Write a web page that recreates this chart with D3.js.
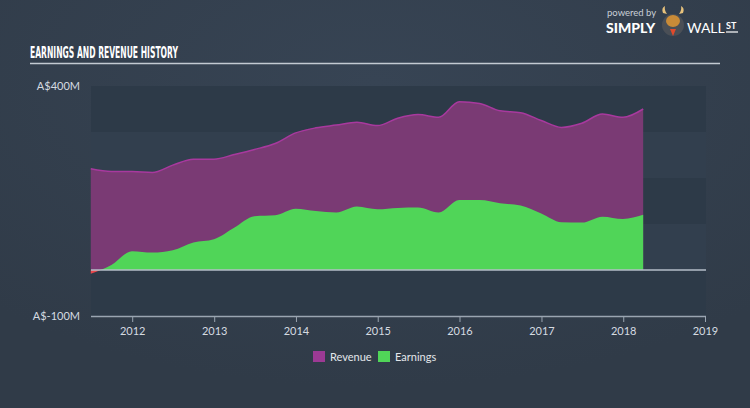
<!DOCTYPE html>
<html>
<head>
<meta charset="utf-8">
<script src="https://cdn.jsdelivr.net/npm/d3@7"></script>
<style>
  html, body { margin: 0; padding: 0; }
  body { width: 750px; height: 408px; overflow: hidden; background: #333f4d; }
</style>
</head>
<body>
<div id="chart"></div>
<script>
// DATA ######################################################
const quarters = [
  "2011-06-30", "2011-09-30", "2011-12-31", "2012-03-31",
  "2012-06-30", "2012-09-30", "2012-12-31", "2013-03-31",
  "2013-06-30", "2013-09-30", "2013-12-31", "2014-03-31",
  "2014-06-30", "2014-09-30", "2014-12-31", "2015-03-31",
  "2015-06-30", "2015-09-30", "2015-12-31", "2016-03-31",
  "2016-06-30", "2016-09-30", "2016-12-31", "2017-03-31",
  "2017-06-30", "2017-09-30", "2017-12-31", "2018-03-31"
];
// A$ millions
const revenue = [220, 214, 214, 212, 228, 241, 241, 251, 262, 275, 298, 309, 315, 321,
                 314, 330, 338, 332, 366, 362, 346, 342, 325, 310, 319, 339, 332, 350];
const earnings = [-8, 11, 41, 38, 43, 60, 67, 92, 117, 119, 133, 128, 125, 138,
                  132, 135, 136, 125, 152, 152, 145, 140, 123, 104, 103, 116, 111, 120];
const yearTicks = [2012, 2013, 2014, 2015, 2016, 2017, 2018, 2019];
const yTickValues = [400, -100];
const bandEdges = [-100, 0, 100, 200, 300, 400];

// CONSTANTS #################################################
const width = 750;
const height = 408;
const plot = { left: 91, right: 706, top: 86, bottom: 316 };
const font = "Lato, 'Open Sans', sans-serif";

const parse = d3.timeParse("%Y-%m-%d");
const data = quarters.map((q, i) => ({ date: parse(q), rev: revenue[i], earn: earnings[i] }));

// SCALES ====================================================
const xScale = d3.scaleTime()
    .domain([new Date(2011, 6, 1), new Date(2019, 0, 1)])
    .range([plot.left, plot.right - 1]);

const yScale = d3.scaleLinear()
    .domain([-100, 400])
    .range([plot.bottom, plot.top]);

// SVG =======================================================
const svg = d3.select("#chart")
    .append("svg")
    .attr("width", width)
    .attr("height", height);

const defs = svg.append("defs");
const bg = defs.append("radialGradient")
    .attr("id", "bg").attr("cx", "50%").attr("cy", "20%").attr("r", "75%");
bg.append("stop").attr("offset", "0%").attr("stop-color", "#374454");
bg.append("stop").attr("offset", "100%").attr("stop-color", "#303b48");

svg.append("rect")
    .attr("width", width).attr("height", height)
    .attr("fill", "url(#bg)");

// bands -------------------------------------------------------
svg.append("g").selectAll("rect")
    .data(d3.pairs(bandEdges))
    .join("rect")
    .attr("x", plot.left)
    .attr("width", plot.right - plot.left)
    .attr("y", d => yScale(d[1]))
    .attr("height", d => yScale(d[0]) - yScale(d[1]))
    .attr("fill", (d, i) => i % 2 === 0 ? "#2d3a48" : "#323f4e");

// TITLE -------------------------------------------------------
svg.append("text")
    .attr("x", 30).attr("y", 58)
    .attr("textLength", 148)
    .attr("lengthAdjust", "spacingAndGlyphs")
    .style("font-family", "'DejaVu Sans Condensed', 'DejaVu Sans', sans-serif")
    .style("font-weight", "bold")
    .style("font-size", "15px")
    .style("fill", "#ffffff")
    .text("EARNINGS AND REVENUE HISTORY");

svg.append("line")
    .attr("x1", 30).attr("x2", 720)
    .attr("y1", 63.5).attr("y2", 63.5)
    .attr("stroke", "#c3cad2").attr("stroke-width", 1.5);

// AREAS =======================================================
const curve = d3.curveMonotoneX;

const revArea = d3.area()
    .x(d => xScale(d.date))
    .y0(yScale(0))
    .y1(d => yScale(d.rev))
    .curve(curve);

const revLine = d3.line()
    .x(d => xScale(d.date))
    .y(d => yScale(d.rev))
    .curve(curve);

const earnArea = d3.area()
    .x(d => xScale(d.date))
    .y0(yScale(0))
    .y1(d => yScale(d.earn))
    .curve(curve);

svg.append("path")
    .datum(data)
    .attr("d", revArea)
    .attr("fill", "#7a3a74");

svg.append("path")
    .datum(data)
    .attr("d", revLine)
    .attr("fill", "none")
    .attr("stroke", "#a8399e")
    .attr("stroke-width", 1.5);

// clip earnings above / below zero
defs.append("clipPath").attr("id", "above")
  .append("rect")
    .attr("x", 0).attr("y", 0)
    .attr("width", width).attr("height", yScale(0));
defs.append("clipPath").attr("id", "below")
  .append("rect")
    .attr("x", 0).attr("y", yScale(0))
    .attr("width", width).attr("height", height);

svg.append("path")
    .datum(data)
    .attr("d", earnArea)
    .attr("clip-path", "url(#above)")
    .attr("fill", "#50d558");

svg.append("path")
    .datum(data)
    .attr("d", earnArea)
    .attr("clip-path", "url(#below)")
    .attr("fill", "#e9474c");

// zero line
svg.append("line")
    .attr("x1", plot.left).attr("x2", plot.right)
    .attr("y1", yScale(0)).attr("y2", yScale(0))
    .attr("stroke", "#b5bec8").attr("stroke-width", 1.5);

// AXES ========================================================
const xAxis = svg.append("g")
    .attr("transform", `translate(0,${plot.bottom})`)
    .call(d3.axisBottom(xScale)
        .tickValues(yearTicks.map(y => new Date(y, 0, 1)))
        .tickFormat(d3.timeFormat("%Y"))
        .tickSize(6)
        .tickSizeOuter(0));

xAxis.select(".domain")
    .attr("d", `M${plot.left},0.5H${plot.right}`)
    .attr("stroke", "#9aa5b1").attr("stroke-width", 1.5);
xAxis.selectAll(".tick line").attr("stroke", "#9aa5b1");
xAxis.selectAll(".tick text")
    .attr("dy", "0.95em")
    .style("font-family", font)
    .style("font-size", "11px")
    .style("fill", "#d5dbe1");

svg.append("g").selectAll("text")
    .data(yTickValues)
    .join("text")
    .attr("x", 80)
    .attr("y", d => yScale(d) + 4)
    .attr("text-anchor", "end")
    .style("font-family", font)
    .style("font-size", "11px")
    .style("fill", "#d5dbe1")
    .text(d => `A$${d}M`);

// LEGEND ======================================================
const legendItems = [
  { name: "Revenue", color: "#9c3a94", x: 313 },
  { name: "Earnings", color: "#50d558", x: 378 }
];
const legend = svg.append("g").selectAll("g")
    .data(legendItems)
    .join("g")
    .attr("transform", d => `translate(${d.x},351)`);
legend.append("rect")
    .attr("width", 12).attr("height", 11)
    .attr("fill", d => d.color);
legend.append("text")
    .attr("x", 17).attr("y", 9.5)
    .style("font-family", font)
    .style("font-size", "11px")
    .style("fill", "#e3e7eb")
    .text(d => d.name);

// LOGO ========================================================
const logo = svg.append("g");
logo.append("text")
    .attr("x", 607).attr("y", 16)
    .style("font-family", font)
    .style("font-size", "9.5px")
    .style("fill", "#c9cfd6")
    .text("powered by");
logo.append("text")
    .attr("x", 606).attr("y", 33)
    .style("font-family", font)
    .style("font-weight", "900")
    .style("font-size", "14px")
    .style("fill", "#ffffff")
    .text("SIMPLY");
logo.append("circle")
    .attr("cx", 673).attr("cy", 25).attr("r", 11)
    .attr("fill", "#4a4f56");
logo.append("ellipse")
    .attr("cx", 673).attr("cy", 21).attr("rx", 7).attr("ry", 6)
    .attr("fill", "#c98b38");
logo.append("path")
    .attr("d", "M663,13 Q661,8 665,6 Q664,10 667,14 Z M683,13 Q685,8 681,6 Q682,10 679,14 Z")
    .attr("fill", "#e7c27c");
logo.append("path")
    .attr("d", "M670,29 L673,36 L676,29 Z")
    .attr("fill", "#e04a2c");
logo.append("text")
    .attr("x", 687).attr("y", 33)
    .style("font-family", font)
    .style("font-size", "14px")
    .style("fill", "#ffffff")
    .text("WALL");
logo.append("text")
    .attr("x", 726).attr("y", 29)
    .style("font-family", font)
    .style("font-weight", "bold")
    .style("font-size", "9px")
    .style("fill", "#ffffff")
    .text("ST");
logo.append("line")
    .attr("x1", 726).attr("x2", 738)
    .attr("y1", 32).attr("y2", 32)
    .attr("stroke", "#ffffff").attr("stroke-width", 1.2);
</script>
</body>
</html>
